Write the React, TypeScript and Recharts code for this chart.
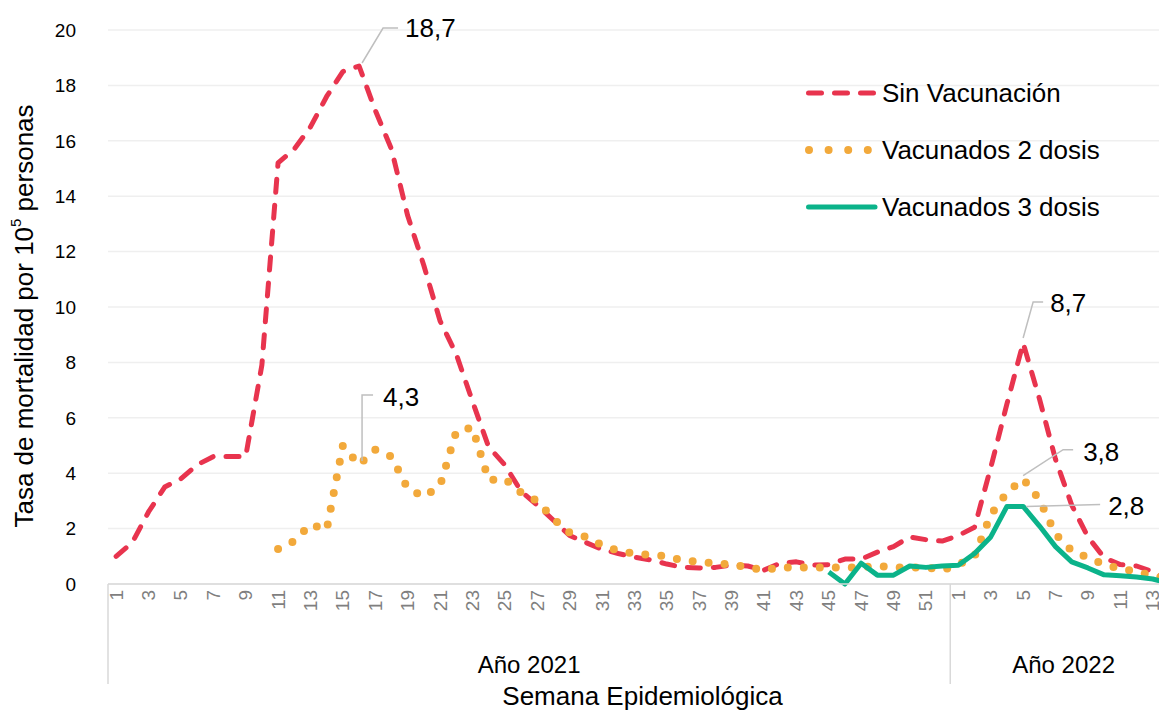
import React from 'react';
import {
  LineChart,
  Line,
  XAxis,
  YAxis,
  CartesianGrid,
  Legend,
  LabelList
} from 'recharts';

// week numbers per year (category labels)
const WEEKS_2021 = [
  1, 2, 3, 4, 5, 6, 7, 8, 9, 10, 11, 12, 13, 14, 15, 16, 17, 18, 19, 20, 21, 22, 23, 24, 25, 26,
  27, 28, 29, 30, 31, 32, 33, 34, 35, 36, 37, 38, 39, 40, 41, 42, 43, 44, 45, 46, 47, 48, 49, 50, 51, 52
];
const WEEKS_2022 = [1, 2, 3, 4, 5, 6, 7, 8, 9, 10, 11, 12, 13, 14];
const YEAR_LABELS = ['Año 2021', 'Año 2022'];

// Tasa de mortalidad por 10^5 personas
const SIN_VAC_2021 = [
  1.0, 1.5, 2.6, 3.5, 3.8, 4.3, 4.6, 4.6, 4.6, 7.9, 15.2, 15.7, 16.5, 17.6, 18.5, 18.7, 17.1, 15.7,
  13.3, 11.5, 9.5, 8.3, 6.6, 4.95, 4.3, 3.35, 2.85, 2.3, 1.75, 1.5, 1.25, 1.1, 0.97, 0.87, 0.72,
  0.6, 0.58, 0.6, 0.68, 0.65, 0.5, 0.75, 0.8, 0.68, 0.7, 0.9, 0.9, 1.15, 1.35, 1.7, 1.6, 1.55
];
const SIN_VAC_2022 = [1.75, 2.05, 4.2, 6.5, 8.7, 6.7, 4.5, 2.85, 1.7, 0.95, 0.7, 0.65, 0.45, 0.15];

const DOS_DOSIS_2021 = [
  null, null, null, null, null, null, null, null, null, null,
  1.26, 1.55, 2.15, 1.95, 5.0, 4.3, 4.85, 4.6, 3.45, 3.15, 3.55, 5.5, 5.65, 3.75, 3.8, 3.3, 3.0,
  2.35, 1.85, 1.7, 1.4, 1.2, 1.1, 1.05, 1.0, 0.85, 0.8, 0.75, 0.7, 0.6, 0.5, 0.6, 0.6, 0.6, 0.6,
  0.6, 0.6, 0.65, 0.6, 0.6, 0.6, 0.5
];
const DOS_DOSIS_2022 = [0.7, 1.0, 2.5, 3.3, 3.8, 3.05, 1.8, 1.2, 0.95, 0.7, 0.55, 0.45, 0.3, 0.2];

const TRES_DOSIS_2021 = [
  null, null, null, null, null, null, null, null, null, null, null, null, null, null, null,
  null, null, null, null, null, null, null, null, null, null, null, null, null, null, null,
  null, null, null, null, null, null, null, null, null, null, null, null, null, null,
  0.43, 0.0, 0.75, 0.32, 0.32, 0.65, 0.6, 0.65
];
const TRES_DOSIS_2022 = [0.68, 1.1, 1.7, 2.8, 2.8, 2.1, 1.35, 0.8, 0.58, 0.33, 0.3, 0.25, 0.18, 0.03];

const Y_TICKS = [0, 2, 4, 6, 8, 10, 12, 14, 16, 18, 20];

const RED = '#E8344E';
const ORANGE = '#F2A93B';
const GREEN = '#0BB38A';
const FONT = '"Liberation Sans", Arial, Helvetica, sans-serif';

const rows = [
  ...WEEKS_2021.map((w, i) => ({
    key: `2021-${w}`, week: w, year: 0,
    sinVac: SIN_VAC_2021[i], dos: DOS_DOSIS_2021[i], tres: TRES_DOSIS_2021[i]
  })),
  ...WEEKS_2022.map((w, i) => ({
    key: `2022-${w}`, week: w, year: 1,
    sinVac: SIN_VAC_2022[i], dos: DOS_DOSIS_2022[i], tres: TRES_DOSIS_2022[i]
  }))
];

const groups = YEAR_LABELS.map((label, g) => {
  const start = rows.findIndex(r => r.year === g);
  const count = rows.filter(r => r.year === g).length;
  return { label, start, count };
});

const fmt = (v: number) => v.toFixed(1).replace('.', ',');

const WeekTick = (props: any) => {
  const { x, y, payload, width } = props;
  const i = payload?.index ?? props.index;
  const row = rows[i];
  if (!row) return null;
  const half = width ? width / rows.length / 2 : 8.1;
  const ty = y + 6;
  const group = groups.find(g => g.start + g.count / 2 - 1 === i);
  return (
    <g>
      {row.week % 2 === 1 && (
        <text
          x={x}
          y={ty}
          transform={`rotate(-90 ${x} ${ty})`}
          textAnchor="end"
          dominantBaseline="central"
          fontSize={19}
          fill="#7f7f7f"
        >
          {row.week}
        </text>
      )}
      {row.week === 1 && (
        <line x1={x - half} x2={x - half} y1={y} y2={y + 100} stroke="#d9d9d9" strokeWidth={1.5} />
      )}
      {i === rows.length - 1 && (
        <line x1={x + half} x2={x + half} y1={y} y2={y + 100} stroke="#d9d9d9" strokeWidth={1.5} />
      )}
      {group && (
        <text x={x + half} y={y + 80} textAnchor="middle" dominantBaseline="central" fontSize={24} fill="#000">
          {group.label}
        </text>
      )}
    </g>
  );
};

// callout label with a grey leader line, drawn only at one point
const callout = (target: number, leader: number[][], tx: number, ty: number) => (props: any) => {
  const { value, index, viewBox } = props;
  const px = props.x ?? viewBox?.x;
  const py = props.y ?? viewBox?.y;
  if (index !== target || value == null || px == null) return null;
  const pts = leader.map(([dx, dy]) => `${px + dx},${py + dy}`).join(' ');
  return (
    <g>
      <polyline points={pts} fill="none" stroke="#bfbfbf" strokeWidth={1.5} />
      <text x={px + tx} y={py + ty} fontSize={26} fill="#000" dominantBaseline="central">
        {fmt(value)}
      </text>
    </g>
  );
};

const LegendContent = () => (
  <svg width={360} height={150} style={{ fontFamily: FONT }}>
    <line x1={10.5} x2={80} y1={15} y2={15} stroke={RED} strokeWidth={5} strokeDasharray="13 13" strokeLinecap="round" />
    <text x={84} y={15} fontSize={26} dominantBaseline="central" fill="#000">Sin Vacunación</text>
    <line x1={11} x2={72} y1={72} y2={72} stroke={ORANGE} strokeWidth={8} strokeDasharray="0 19.6" strokeLinecap="round" />
    <text x={84} y={72} fontSize={26} dominantBaseline="central" fill="#000">Vacunados 2 dosis</text>
    <line x1={10.5} x2={77} y1={129} y2={129} stroke={GREEN} strokeWidth={5} strokeLinecap="round" />
    <text x={84} y={129} fontSize={26} dominantBaseline="central" fill="#000">Vacunados 3 dosis</text>
  </svg>
);

const App: React.FC = () => {
  return (
    <div style={{ width: 1159, height: 705, overflow: 'hidden', position: 'relative', fontFamily: FONT }}>
      <LineChart width={1170} height={705} data={rows} margin={{ top: 22, right: 1, bottom: 0, left: 0 }}>
        <CartesianGrid vertical={false} stroke="#efefef" strokeWidth={1.5} />
        <XAxis
          dataKey="key"
          scale="band"
          interval={0}
          height={129}
          tickLine={false}
          tickSize={0}
          tickMargin={0}
          axisLine={{ stroke: '#d9d9d9', strokeWidth: 1.5 }}
          tick={WeekTick}
          label={{
            content: (p: any) => {
              const vb = p.viewBox;
              return (
                <text x={vb.x + vb.width / 2} y={vb.y + 121} textAnchor="middle" fontSize={26} fill="#000">
                  Semana Epidemiológica
                </text>
              );
            }
          }}
        />
        <YAxis
          domain={[0, 20]}
          ticks={Y_TICKS}
          width={100}
          axisLine={false}
          tickLine={false}
          tickSize={0}
          tickMargin={32}
          tick={{ fill: '#000', fontSize: 19 }}
          label={{
            content: (p: any) => {
              const vb = p.viewBox;
              const cx = 16;
              const cy = vb.y + vb.height / 2 + 9;
              return (
                <text
                  x={cx}
                  y={cy}
                  transform={`rotate(-90 ${cx} ${cy})`}
                  textAnchor="middle"
                  dominantBaseline="central"
                  fontSize={26}
                  fill="#000"
                >
                  Tasa de mortalidad por 10<tspan baselineShift="super" fontSize={15}>5</tspan> personas
                </text>
              );
            }
          }}
        />
        <Legend
          layout="vertical"
          align="center"
          verticalAlign="middle"
          wrapperStyle={{ left: 790, top: 70, width: 360, height: 150 }}
          content={LegendContent}
        />
        <Line
          name="Sin Vacunación"
          dataKey="sinVac"
          type="linear"
          stroke={RED}
          strokeWidth={5}
          strokeDasharray="13 13"
          strokeLinecap="round"
          strokeLinejoin="round"
          dot={false}
          activeDot={false}
          isAnimationActive={false}
        >
          <LabelList dataKey="sinVac" content={callout(15, [[3, -3], [24, -38], [39, -38]], 46, -38)} />
          <LabelList dataKey="sinVac" content={callout(56, [[0, -5], [10, -41], [20, -41]], 27, -40)} />
        </Line>
        <Line
          name="Vacunados 2 dosis"
          dataKey="dos"
          type="linear"
          stroke={ORANGE}
          strokeWidth={8}
          strokeDasharray="0 16"
          strokeLinecap="round"
          strokeLinejoin="round"
          dot={false}
          activeDot={false}
          isAnimationActive={false}
        >
          <LabelList dataKey="dos" content={callout(15, [[3, -4], [3, -70], [14, -70]], 24, -68)} />
          <LabelList dataKey="dos" content={callout(56, [[0, -3], [40, -29], [50, -29]], 60, -27)} />
        </Line>
        <Line
          name="Vacunados 3 dosis"
          dataKey="tres"
          type="linear"
          stroke={GREEN}
          strokeWidth={5}
          strokeLinejoin="round"
          dot={false}
          activeDot={false}
          isAnimationActive={false}
        >
          <LabelList dataKey="tres" content={callout(56, [[3, 0], [77, -2]], 85, 0)} />
        </Line>
      </LineChart>
    </div>
  );
};

export default App;
